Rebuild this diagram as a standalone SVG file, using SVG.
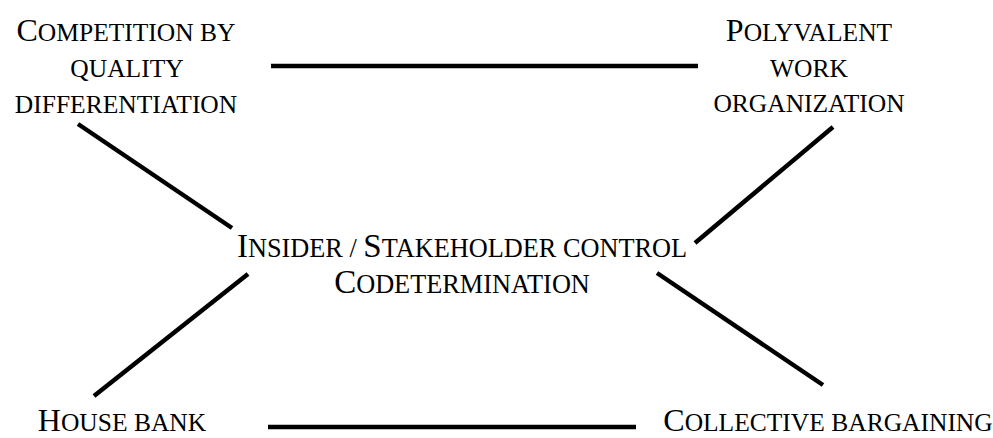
<svg xmlns="http://www.w3.org/2000/svg" width="993" height="438" viewBox="0 0 993 438">
<style>
text{font-family:"Liberation Serif","Times New Roman",serif;fill:#000;text-anchor:middle;font-size:25.5px}
.c{font-size:32px}
.m text{font-size:26.3px}
.m text .c{font-size:33px}
line{stroke:#000;stroke-width:4.5}
</style>
<rect width="993" height="438" fill="#fff"/>
<g id="connectors">
<line x1="271" y1="66" x2="698" y2="66"/>
<line x1="268" y1="427" x2="636" y2="427"/>
<line x1="78" y1="124" x2="232" y2="228"/>
<line x1="833" y1="127" x2="695" y2="243"/>
<line x1="248" y1="274" x2="94" y2="396"/>
<line x1="657" y1="273" x2="823" y2="385"/>
</g>
<g id="node-competition">
<text x="126" y="41"><tspan class="c">C</tspan>OMPETITION BY</text>
<text x="127" y="77">QUALITY</text>
<text x="126" y="113">DIFFERENTIATION</text>
</g>
<g id="node-polyvalent">
<text x="809" y="41"><tspan class="c">P</tspan>OLYVALENT</text>
<text x="809" y="77">WORK</text>
<text x="809" y="112">ORGANIZATION</text>
</g>
<g id="node-insider" class="m">
<text x="462" y="257"><tspan class="c">I</tspan>NSIDER / <tspan class="c">S</tspan>TAKEHOLDER CONTROL</text>
<text x="462" y="293"><tspan class="c">C</tspan>ODETERMINATION</text>
</g>
<g id="node-housebank">
<text x="122" y="431"><tspan class="c">H</tspan>OUSE BANK</text>
</g>
<g id="node-collective">
<text x="828" y="431"><tspan class="c">C</tspan>OLLECTIVE BARGAINING</text>
</g>
</svg>
